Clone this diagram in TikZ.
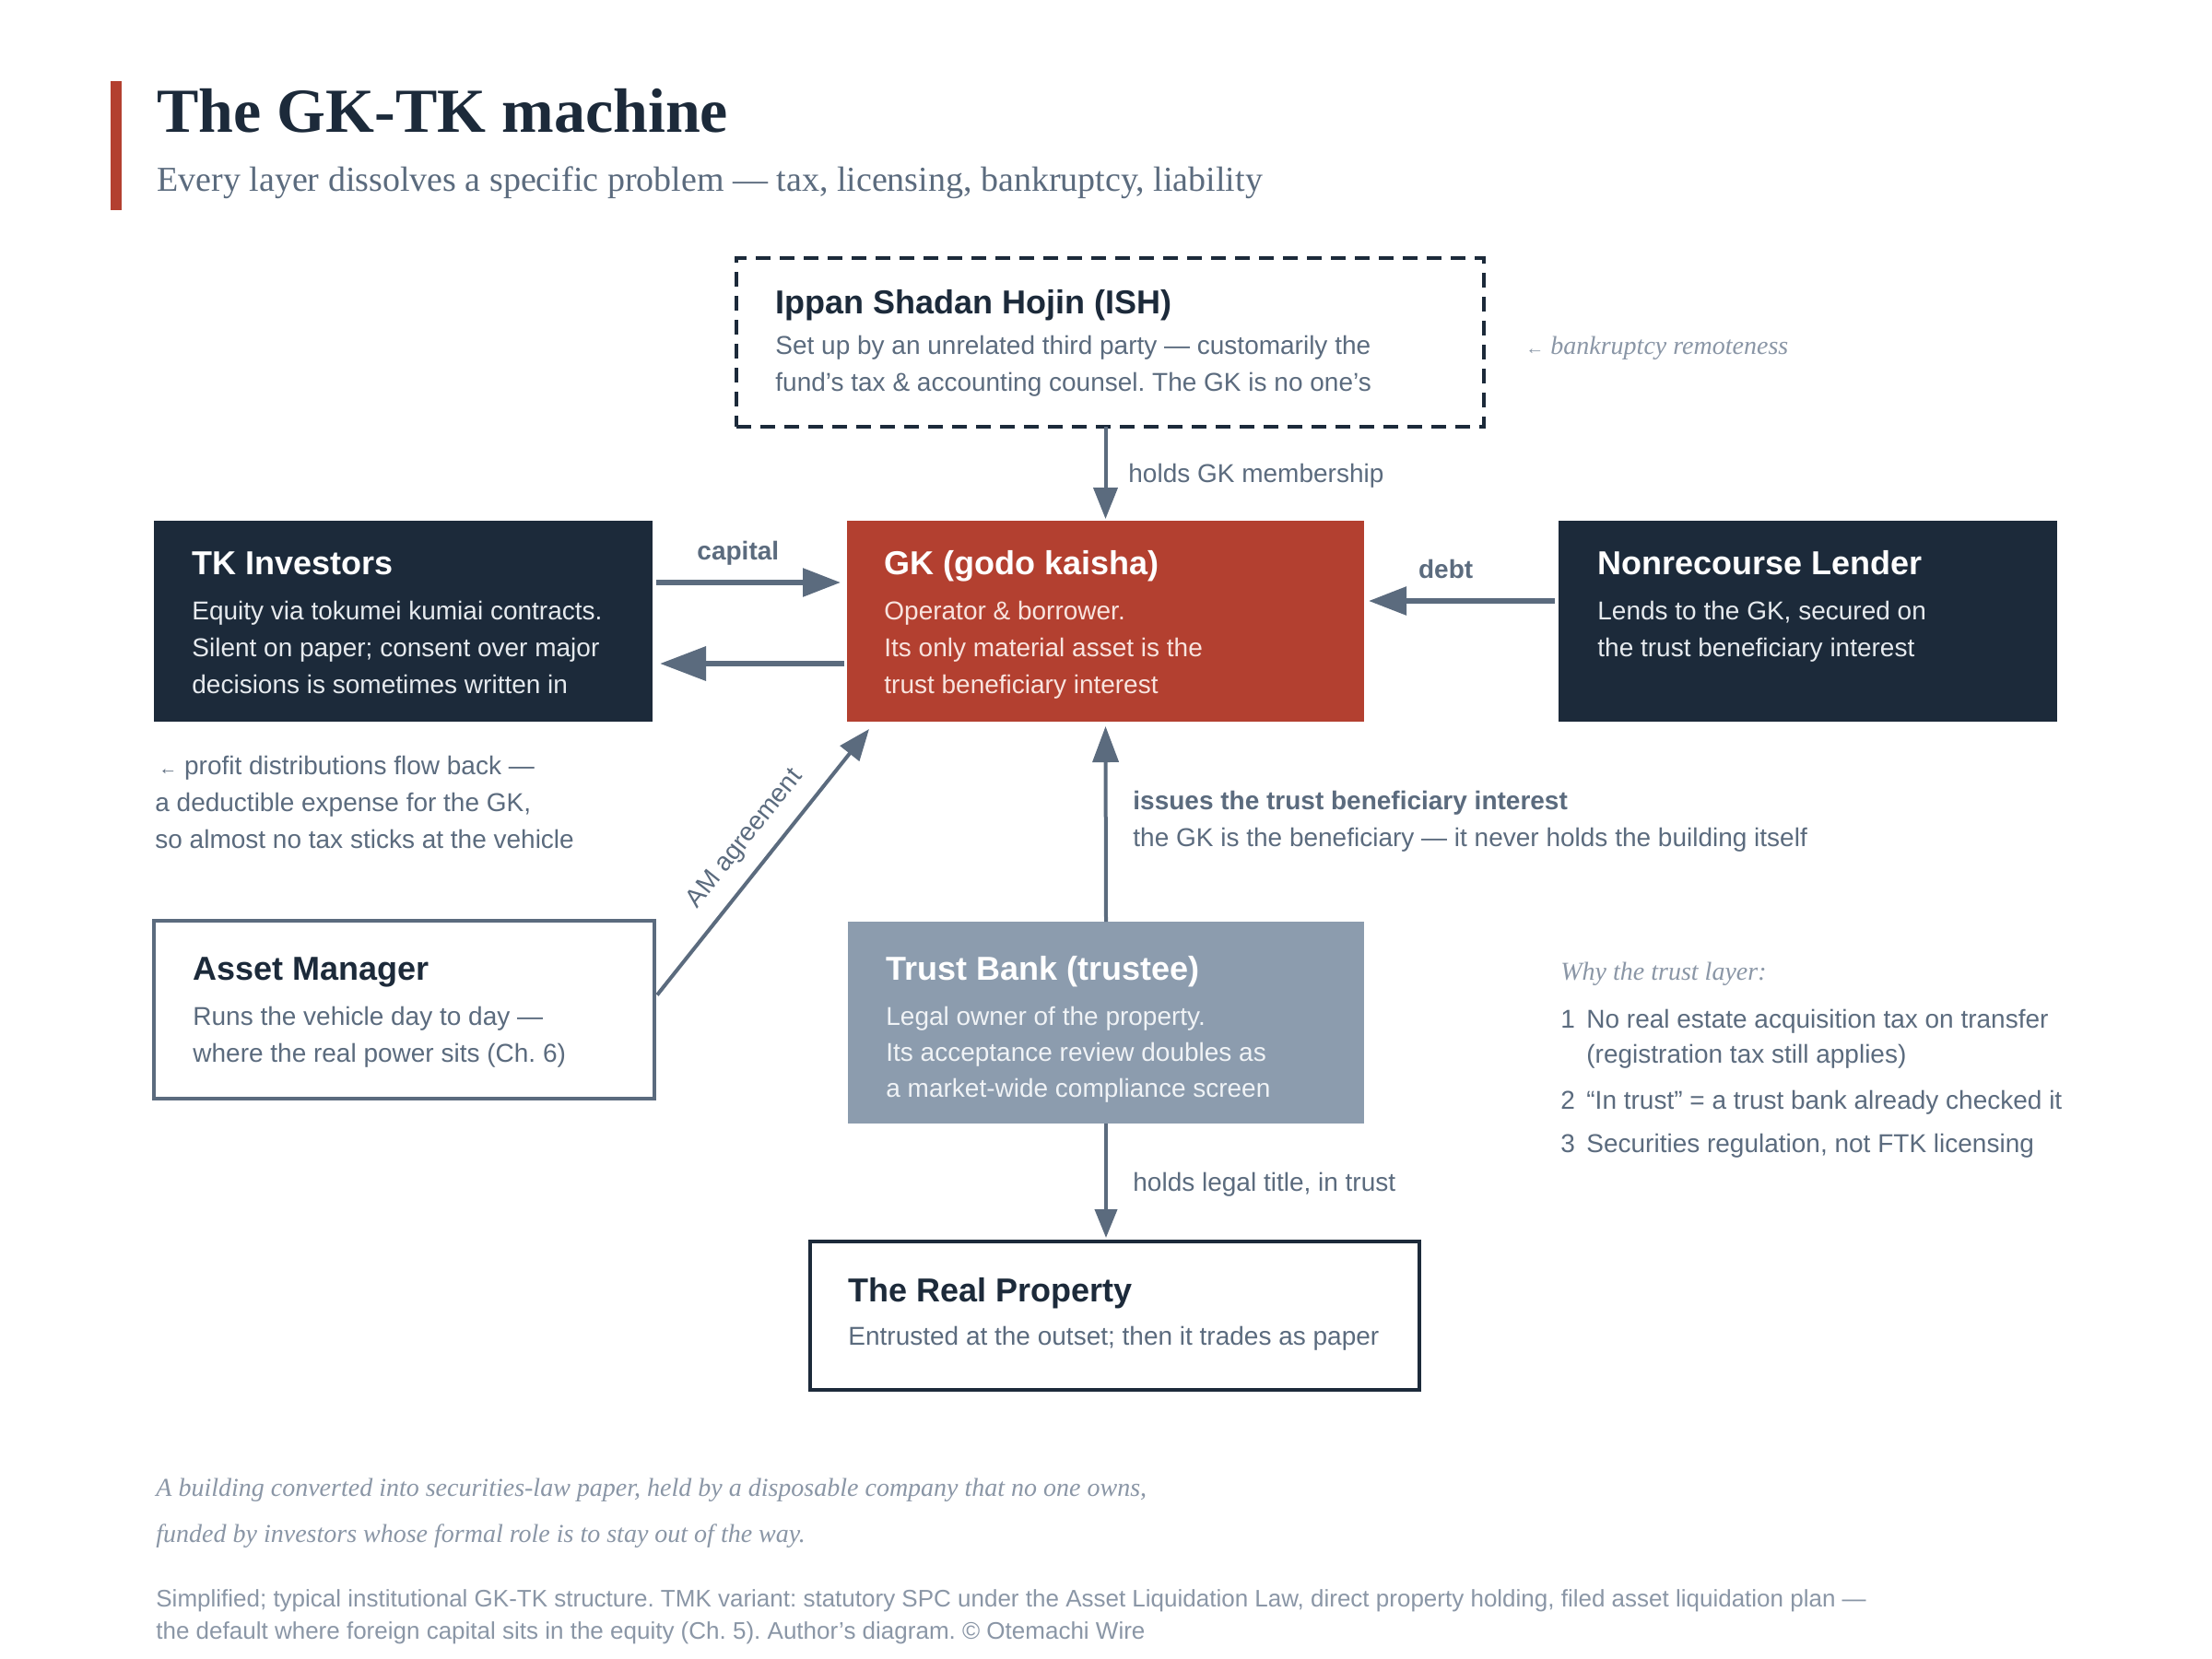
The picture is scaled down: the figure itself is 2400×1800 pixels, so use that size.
\documentclass[tikz,border=0pt]{standalone}
\usepackage{fontspec}
\setmainfont{Liberation Serif}
\setsansfont{Liberation Sans}
\usetikzlibrary{arrows.meta,fit,calc}
\definecolor{navy}{HTML}{1C2A3A}
\definecolor{gkred}{HTML}{B34030}
\definecolor{slate}{HTML}{5B6B7E}
\definecolor{trustfill}{HTML}{8C9CAE}
\definecolor{softgray}{HTML}{8A96A6}
\definecolor{darkbody}{HTML}{E6EAEE}
\definecolor{redbody}{HTML}{F8E4DF}
\definecolor{trustbody}{HTML}{F0F3F6}
\newcommand\fsz[1]{\fontsize{#1}{#1}\selectfont}
\frenchspacing
\begin{document}
\begin{tikzpicture}[x=0.5pt,y=-0.5pt,
  box/.style={inner sep=0pt, outer sep=0pt},
  ln/.style={anchor=base west, inner sep=0pt, font=\sffamily\fsz{14}},
  ttl/.style={anchor=base west, inner sep=0pt, font=\sffamily\bfseries\fsz{18}},
  note/.style={anchor=base west, inner sep=0pt, font=\rmfamily\itshape\fsz{14}, text=softgray},
  harr/.style={draw=slate, line width=2.8pt, -{Triangle[length=20.5pt,width=15pt]}},
  varr/.style={draw=slate, line width=2pt, -{Triangle[length=17pt,width=13pt]}},
]
\useasboundingbox[fill=white] (0,0) rectangle (2400,1800);

% heading
\fill[gkred] (120,88) rectangle (132,228);
\node[anchor=base west, inner sep=0pt, font=\rmfamily\bfseries\fsz{34}, text=navy] (title) at (170,143) {The GK-TK machine};
\node[anchor=base west, inner sep=0pt, font=\rmfamily\fsz{19}, text=slate] (subtitle) at (170,207) {Every layer dissolves a specific problem — tax, licensing, bankruptcy, liability};

% boxes
\node[box, fit={(799,280) (1610,463)}, draw=navy, line width=1.75pt, dash pattern=on 8pt off 5pt, fill=white] (ish) {};
\node[box, fit={(167,565) (708,783)}, fill=navy] (tk) {};
\node[box, fit={(919,565) (1480,783)}, fill=gkred] (gk) {};
\node[box, fit={(1691,565) (2232,783)}, fill=navy] (lender) {};
\node[box, fit={(167,999) (710,1192)}, draw=slate, line width=2pt, fill=white] (am) {};
\node[box, fit={(920,1000) (1480,1219)}, fill=trustfill] (tb) {};
\node[box, fit={(879,1347) (1540,1508)}, draw=navy, line width=2.25pt, fill=white] (rp) {};

% ISH text
\node[ttl, text=navy] (ishT) at (841,340) {Ippan Shadan Hojin (ISH)};
\node[ln, text=slate] (ish1) at (841,384) {Set up by an unrelated third party — customarily the};
\node[ln, text=slate] (ish2) at (841,424) {fund’s tax \& accounting counsel. The GK is no one’s};
\node[note] (ishnote) at (1655,384) {{\upshape\fsz{10}←}\ bankruptcy remoteness};

% TK text
\node[ttl, text=white] (tkT) at (208,623) {TK Investors};
\node[ln, text=darkbody] (tk1) at (208,672) {Equity via tokumei kumiai contracts.};
\node[ln, text=darkbody] (tk2) at (208,712) {Silent on paper; consent over major};
\node[ln, text=darkbody] (tk3) at (208,752) {decisions is sometimes written in};

% GK text
\node[ttl, text=white] (gkT) at (959,623) {GK (godo kaisha)};
\node[ln, text=redbody] (gk1) at (959,672) {Operator \& borrower.};
\node[ln, text=redbody] (gk2) at (959,712) {Its only material asset is the};
\node[ln, text=redbody] (gk3) at (959,752) {trust beneficiary interest};

% Lender text
\node[ttl, text=white] (lT) at (1733,623) {Nonrecourse Lender};
\node[ln, text=darkbody] (l1) at (1733,672) {Lends to the GK, secured on};
\node[ln, text=darkbody] (l2) at (1733,712) {the trust beneficiary interest};

% profit note
\node[ln, text=slate] (pf1) at (172,840) {{\fsz{10}←}\ profit distributions flow back —};
\node[ln, text=slate] (pf2) at (168,880) {a deductible expense for the GK,};
\node[ln, text=slate] (pf3) at (168,920) {so almost no tax sticks at the vehicle};

% AM text
\node[ttl, text=navy] (amT) at (209,1063) {Asset Manager};
\node[ln, text=slate] (am1) at (209,1112) {Runs the vehicle day to day —};
\node[ln, text=slate] (am2) at (209,1152) {where the real power sits (Ch. 6)};

% Trust bank text
\node[ttl, text=white] (tbT) at (961,1063) {Trust Bank (trustee)};
\node[ln, text=trustbody] (tb1) at (961,1112) {Legal owner of the property.};
\node[ln, text=trustbody] (tb2) at (961,1151) {Its acceptance review doubles as};
\node[ln, text=trustbody] (tb3) at (961,1190) {a market-wide compliance screen};

% Real property text
\node[ttl, text=navy] (rpT) at (920,1412) {The Real Property};
\node[ln, text=slate] (rp1) at (920,1459) {Entrusted at the outset; then it trades as paper};

% connector labels
\node[ln, text=slate] (lblish) at (1224,523) {holds GK membership};
\node[ln, text=slate, font=\sffamily\bfseries\fsz{14}] (lbliss) at (1229,878) {issues the trust beneficiary interest};
\node[ln, text=slate] (lbliss2) at (1229,918) {the GK is the beneficiary — it never holds the building itself};
\node[ln, text=slate] (lbltitle) at (1229,1292) {holds legal title, in trust};

% why the trust layer
\node[note] (why) at (1693,1063) {Why the trust layer:};
\node[ln, text=slate] (n1) at (1693,1115) {1};
\node[ln, text=slate] (w1) at (1721,1115) {No real estate acquisition tax on transfer};
\node[ln, text=slate] (w1b) at (1721,1153) {(registration tax still applies)};
\node[ln, text=slate] (n2) at (1693,1203) {2};
\node[ln, text=slate] (w2) at (1721,1203) {“In trust” = a trust bank already checked it};
\node[ln, text=slate] (n3) at (1693,1250) {3};
\node[ln, text=slate] (w3) at (1721,1250) {Securities regulation, not FTK licensing};

% footer
\node[note] (ft1) at (169,1623) {A building converted into securities-law paper, held by a disposable company that no one owns,};
\node[note] (ft2) at (169,1673) {funded by investors whose formal role is to stay out of the way.};
\node[ln, text=softgray, font=\sffamily\fsz{13}] (src1) at (169,1743) {Simplified; typical institutional GK-TK structure. TMK variant: statutory SPC under the Asset Liquidation Law, direct property holding, filed asset liquidation plan —};
\node[ln, text=softgray, font=\sffamily\fsz{13}] (src2) at (169,1778) {the default where foreign capital sits in the equity (Ch. 5). Author’s diagram. © Otemachi Wire};

% connectors
\coordinate (capY) at (0,632);
\coordinate (backY) at (0,720);
\coordinate (debtY) at (0,652);
\draw[varr, shorten >=1pt] (ish.south -| gk.north) -- (gk.north);
\draw[harr, shorten <=2pt, shorten >=3.5pt] (tk.east |- capY) -- node[pos=0.44, anchor=base, yshift=12.5pt, inner sep=0pt, font=\sffamily\bfseries\fsz{14}, text=slate] (lblcap) {capital} (gk.west |- capY);
\draw[draw=slate, line width=3.3pt, -{Triangle[length=25pt,width=18pt]}, shorten <=1.5pt, shorten >=4pt] (gk.west |- backY) -- (tk.east |- backY);
\draw[harr, shorten <=2pt, shorten >=2.5pt] (lender.west |- debtY) -- node[pos=0.58, anchor=base, yshift=12.5pt, inner sep=0pt, font=\sffamily\bfseries\fsz{14}, text=slate] (lbldebt) {debt} (gk.east |- debtY);
\draw[varr, -{Triangle[length=19.5pt,width=14pt]}, shorten >=2.5pt] (tb.north) -- (gk.south);
\draw[varr, -{Triangle[length=15.5pt,width=12pt]}, shorten >=2pt] (tb.south) -- (tb.south |- rp.north);
\draw[varr] ($(am.east)+(3,-16)$) -- node[pos=0.52, sloped, above=8pt, inner sep=0pt, font=\sffamily\fsz{14}, text=slate] (lblam) {AM agreement} ($(gk.south west)+(24,8)$);
\end{tikzpicture}
\end{document}
